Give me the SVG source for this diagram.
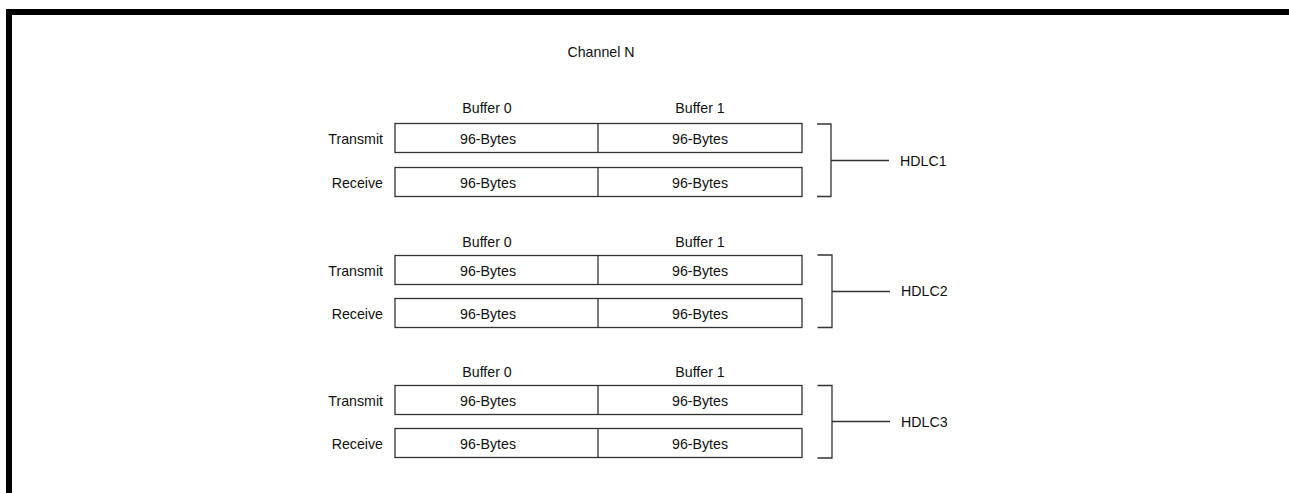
<svg xmlns="http://www.w3.org/2000/svg" width="1289" height="493" viewBox="0 0 1289 493">
<style>
text{font-family:"Liberation Sans",Arial,sans-serif;font-size:14.2px;fill:#111}
.c{text-anchor:middle}
.r{text-anchor:end}
.box{fill:#fff;stroke:#333;stroke-width:1.3}
.ln{fill:none;stroke:#333;stroke-width:1.3}
</style>
<rect width="1289" height="493" fill="#fff"/>
<g id="frame">
<rect x="6" y="9" width="1283" height="6" fill="#000"/>
<rect x="6" y="9" width="6" height="484" fill="#000"/>
</g>
<text id="title" class="c" x="601" y="57">Channel N</text>
<g id="hdlc1-buffers">
<text class="c" x="487" y="113">Buffer 0</text>
<text class="c" x="700" y="113">Buffer 1</text>
<text class="r" x="383" y="144">Transmit</text>
<text class="r" x="383" y="188">Receive</text>
<rect class="box" x="395" y="123.5" width="407" height="29"/>
<line class="ln" x1="598" y1="123.5" x2="598" y2="152.5"/>
<rect class="box" x="395" y="167.5" width="407" height="29"/>
<line class="ln" x1="598" y1="167.5" x2="598" y2="196.5"/>
<text class="c" x="488" y="143.5">96-Bytes</text>
<text class="c" x="700" y="143.5">96-Bytes</text>
<text class="c" x="488" y="187.5">96-Bytes</text>
<text class="c" x="700" y="187.5">96-Bytes</text>
</g>
<g id="hdlc2-buffers">
<text class="c" x="487" y="247">Buffer 0</text>
<text class="c" x="700" y="247">Buffer 1</text>
<text class="r" x="383" y="275.5">Transmit</text>
<text class="r" x="383" y="318.5">Receive</text>
<rect class="box" x="395" y="255.5" width="407" height="29"/>
<line class="ln" x1="598" y1="255.5" x2="598" y2="284.5"/>
<rect class="box" x="395" y="298.5" width="407" height="29"/>
<line class="ln" x1="598" y1="298.5" x2="598" y2="327.5"/>
<text class="c" x="488" y="275.5">96-Bytes</text>
<text class="c" x="700" y="275.5">96-Bytes</text>
<text class="c" x="488" y="318.5">96-Bytes</text>
<text class="c" x="700" y="318.5">96-Bytes</text>
</g>
<g id="hdlc3-buffers">
<text class="c" x="487" y="377">Buffer 0</text>
<text class="c" x="700" y="377">Buffer 1</text>
<text class="r" x="383" y="405.5">Transmit</text>
<text class="r" x="383" y="448.5">Receive</text>
<rect class="box" x="395" y="385.5" width="407" height="29"/>
<line class="ln" x1="598" y1="385.5" x2="598" y2="414.5"/>
<rect class="box" x="395" y="428.5" width="407" height="29"/>
<line class="ln" x1="598" y1="428.5" x2="598" y2="457.5"/>
<text class="c" x="488" y="405.5">96-Bytes</text>
<text class="c" x="700" y="405.5">96-Bytes</text>
<text class="c" x="488" y="448.5">96-Bytes</text>
<text class="c" x="700" y="448.5">96-Bytes</text>
</g>
<g id="connectors">
<path class="ln" d="M817,124 H831 V196.5 H817 M831,160.5 H889"/>
<path class="ln" d="M817.5,255 H832 V327.5 H817.5 M832,291.5 H890"/>
<path class="ln" d="M817.5,385.5 H832 V458 H817.5 M832,421.5 H890"/>
</g>
<g id="hdlc1"><text x="900" y="165.5">HDLC1</text></g>
<g id="hdlc2"><text x="901" y="296">HDLC2</text></g>
<g id="hdlc3"><text x="901" y="426.5">HDLC3</text></g>
</svg>
